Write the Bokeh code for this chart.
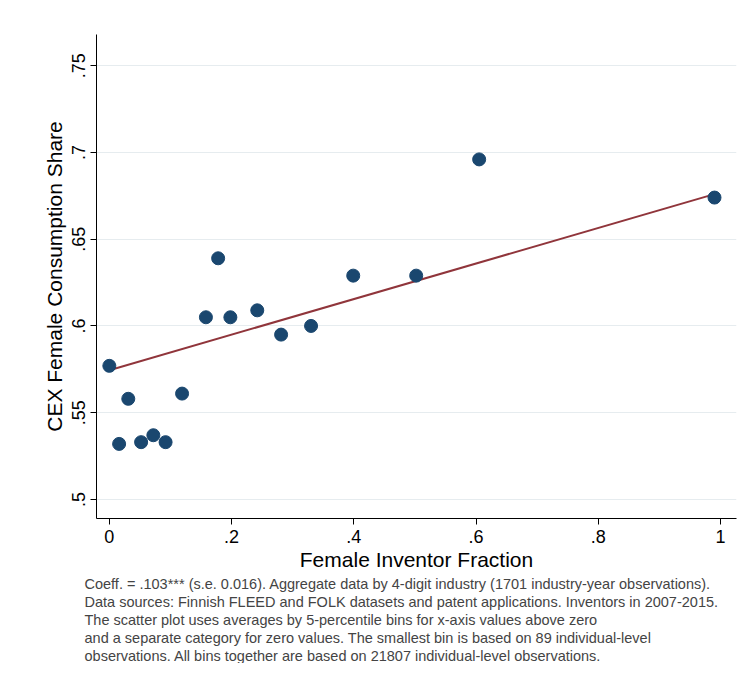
from bokeh.plotting import figure
from bokeh.models import Title, Range1d, FixedTicker
from bokeh.embed import file_html
from bokeh.resources import INLINE

x_vals = [0.0, 0.016, 0.031, 0.052, 0.072, 0.092, 0.119, 0.158, 0.178, 0.198, 0.242, 0.281, 0.330, 0.399, 0.502, 0.605, 0.990]
y_vals = [0.577, 0.532, 0.558, 0.533, 0.537, 0.533, 0.561, 0.605, 0.639, 0.605, 0.609, 0.595, 0.600, 0.629, 0.629, 0.696, 0.674]
fit_x = [0.0, 0.99]
fit_y = [0.5745, 0.676]
x_ticks = [0, 0.2, 0.4, 0.6, 0.8, 1.0]
x_labels = ["0", ".2", ".4", ".6", ".8", "1"]
y_ticks = [0.5, 0.55, 0.6, 0.65, 0.7, 0.75]
y_labels = [".5", ".55", ".6", ".65", ".7", ".75"]
notes = [
    "Coeff. = .103*** (s.e. 0.016).  Aggregate data by 4-digit industry (1701 industry-year observations).",
    "Data sources: Finnish FLEED and FOLK datasets and patent applications. Inventors in 2007-2015.",
    "The scatter plot uses averages by 5-percentile bins for x-axis values above zero",
    "and a separate category for zero values. The smallest bin is based on 89 individual-level",
    "observations. All bins together are based on 21807 individual-level observations.",
]

p = figure(width=740, height=663, output_backend="svg", toolbar_location=None,
           x_range=Range1d(-0.021, 1.026), y_range=Range1d(0.489, 0.768),
           min_border_left=96, min_border_top=34, min_border_right=4, min_border_bottom=20)
p.outline_line_color = None
p.background_fill_color = "white"
p.xgrid.grid_line_color = None
p.ygrid.grid_line_color = "#e6ecef"
p.ygrid.grid_line_width = 1

p.line(fit_x, fit_y, line_color="#90353b", line_width=2)
p.scatter(x_vals, y_vals, size=13, fill_color="#1a476f", line_color="#1a476f")

p.xaxis.ticker = FixedTicker(ticks=x_ticks)
p.xaxis.major_label_overrides = {t: l for t, l in zip(x_ticks, x_labels)}
p.yaxis.ticker = FixedTicker(ticks=y_ticks)
p.yaxis.major_label_overrides = {t: l for t, l in zip(y_ticks, y_labels)}
p.yaxis.major_label_orientation = "vertical"
for ax in (p.xaxis, p.yaxis):
    ax.minor_tick_line_color = None
    ax.major_label_text_font = "Liberation Sans"
    ax.major_label_text_font_size = "18px"
    ax.major_label_text_color = "black"
    ax.axis_label_text_font = "Liberation Sans"
    ax.axis_label_text_font_size = "21px"
    ax.axis_label_text_font_style = "normal"
    ax.axis_label_text_color = "black"
    ax.axis_line_color = "black"
    ax.major_tick_line_color = "black"
    ax.major_tick_out = 6
    ax.major_tick_in = 0
p.xaxis.axis_label = "Female Inventor Fraction"
p.yaxis.axis_label = "CEX Female Consumption Share"
p.xaxis.axis_label_standoff = 2
p.yaxis.axis_label_standoff = 4

for i, line in enumerate(notes):
    t = Title(text=line, align="left", text_font="Liberation Sans", text_font_size="14.5px",
              text_font_style="normal", offset=-12, standoff=0, text_line_height=0.95)
    p.add_layout(t, "below")

open("out.html", "w").write(file_html(p, INLINE))
